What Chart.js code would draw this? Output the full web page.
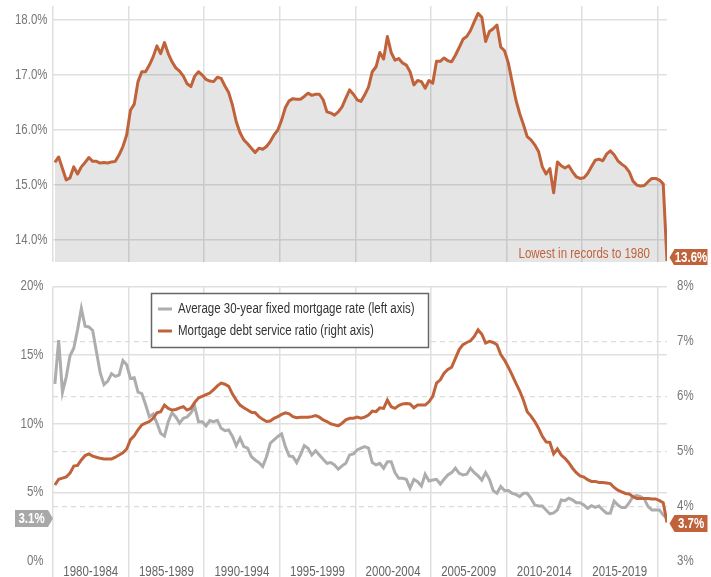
<!DOCTYPE html>
<html>
<head>
<meta charset="utf-8">
<script src="https://cdn.jsdelivr.net/npm/chart.js@4.4.1/dist/chart.umd.min.js"></script>
<style>
  html, body { margin: 0; padding: 0; background: #fff; }
  #wrap { position: relative; width: 711px; height: 577px; overflow: hidden; }
  canvas { position: absolute; left: 0; }
  #topChart { top: 0; }
  #bottomChart { top: 265px; }
</style>
</head>
<body>
<div id="wrap">
  <canvas id="topChart" width="711" height="265"></canvas>
  <canvas id="bottomChart" width="711" height="312"></canvas>
</div>
<script>
// --- DATA (quarterly, 1980 Q1 onward) ---
const startYear = 1980;

// household debt service ratio, % (top panel)
const debtServiceTotal = [
  15.41, 15.51, 15.30, 15.09, 15.13, 15.33, 15.20, 15.33, 15.41, 15.50,
  15.43, 15.43, 15.40, 15.41, 15.40, 15.42, 15.43, 15.55, 15.70, 15.91,
  16.36, 16.47, 16.88, 17.06, 17.06, 17.18, 17.33, 17.53, 17.39, 17.59,
  17.39, 17.24, 17.13, 17.07, 16.98, 16.84, 16.79, 16.98, 17.06, 17.00,
  16.92, 16.89, 16.88, 16.96, 16.94, 16.80, 16.68, 16.45, 16.15, 15.95,
  15.82, 15.75, 15.67, 15.59, 15.67, 15.65, 15.70, 15.79, 15.91, 16.00,
  16.18, 16.41, 16.53, 16.57, 16.56, 16.56, 16.61, 16.67, 16.63, 16.65,
  16.65, 16.55, 16.33, 16.31, 16.27, 16.33, 16.42, 16.58, 16.73, 16.65,
  16.55, 16.52, 16.64, 16.78, 17.06, 17.15, 17.41, 17.29, 17.70, 17.41,
  17.27, 17.30, 17.22, 17.18, 17.06, 16.82, 16.90, 16.88, 16.76, 16.90,
  16.85, 17.25, 17.25, 17.31, 17.26, 17.24, 17.36, 17.50, 17.65, 17.70,
  17.81, 17.97, 18.12, 18.05, 17.61, 17.79, 17.84, 17.91, 17.51, 17.44,
  17.22, 16.88, 16.55, 16.30, 16.10, 15.88, 15.82, 15.73, 15.61, 15.33,
  15.20, 15.30, 14.86, 15.42, 15.35, 15.31, 15.35, 15.24, 15.15, 15.12,
  15.13, 15.21, 15.33, 15.45, 15.47, 15.44, 15.56, 15.62, 15.55, 15.44,
  15.38, 15.33, 15.24, 15.07, 15.00, 14.98, 14.99, 15.06, 15.12, 15.12,
  15.09, 15.02, 13.62
];

// average 30-year fixed mortgage rate, % (left axis)
const mortgageRate = [
  12.9, 16.1, 12.3, 13.4, 14.95, 15.5, 16.85, 18.4, 17.1, 17.05,
  16.8, 15.25, 13.7, 12.85, 13.1, 13.65, 13.45, 13.55, 14.6, 14.3,
  13.3, 13.35, 12.3, 12.2, 11.4, 10.5, 10.7, 10.05, 9.3, 9.1,
  10.15, 10.8, 10.5, 10.05, 10.4, 10.5, 10.8, 11.25, 10.15, 10.15,
  9.85, 10.23, 10.15, 10.25, 9.67, 9.5, 9.55, 9.07, 8.41, 8.95,
  8.33, 8.22, 7.6, 7.36, 7.17, 6.88, 7.6, 8.58, 8.82, 9.07,
  9.26, 8.33, 7.66, 7.6, 7.17, 7.73, 8.41, 8.22, 7.73, 8.04,
  7.73, 7.41, 7.12, 7.17, 7.0, 6.69, 6.93, 7.12, 7.73, 7.8,
  8.09, 8.22, 8.33, 8.22, 7.17, 7.0, 7.12, 6.76, 7.24, 7.24,
  6.44, 6.03, 6.03, 5.95, 5.3, 5.95, 5.78, 5.47, 6.32, 5.83,
  5.9, 5.95, 5.61, 5.95, 6.27, 6.44, 6.76, 6.39, 6.27, 6.32,
  6.76, 6.44, 6.2, 5.9, 6.44, 5.95, 5.13, 4.93, 5.42, 5.13,
  5.13, 4.93, 4.85, 4.69, 4.93, 4.93, 4.57, 4.08, 4.01, 4.01,
  3.72, 3.43, 3.5, 3.72, 4.45, 4.4, 4.57, 4.45, 4.25, 4.25,
  4.08, 3.84, 4.03, 3.9, 4.01, 3.72, 3.48, 3.48, 4.37, 4.08,
  3.89, 3.89, 4.25, 4.69, 4.76, 4.69, 4.52, 3.96, 3.72, 3.72,
  3.72, 3.35, 3.1
];

// mortgage debt service ratio, % (right axis)
const mortgageDsr = [
  4.385, 4.49, 4.51, 4.53, 4.60, 4.73, 4.74, 4.84, 4.92, 4.95,
  4.91, 4.89, 4.87, 4.86, 4.86, 4.86, 4.89, 4.93, 4.97, 5.04,
  5.21, 5.28, 5.39, 5.48, 5.51, 5.54, 5.60, 5.70, 5.72, 5.84,
  5.78, 5.75, 5.76, 5.79, 5.81, 5.75, 5.78, 5.89, 5.97, 6.00,
  6.03, 6.06, 6.12, 6.19, 6.24, 6.22, 6.18, 6.04, 5.93, 5.84,
  5.79, 5.75, 5.71, 5.70, 5.63, 5.58, 5.54, 5.55, 5.60, 5.63,
  5.67, 5.70, 5.68, 5.63, 5.61, 5.62, 5.62, 5.62, 5.63, 5.65,
  5.62, 5.57, 5.54, 5.50, 5.48, 5.46, 5.51, 5.57, 5.60, 5.60,
  5.62, 5.60, 5.62, 5.66, 5.73, 5.72, 5.79, 5.78, 5.93, 5.81,
  5.78, 5.83, 5.86, 5.87, 5.86, 5.79, 5.84, 5.84, 5.84, 5.90,
  6.00, 6.24, 6.30, 6.42, 6.49, 6.53, 6.69, 6.85, 6.94, 6.98,
  7.01, 7.09, 7.21, 7.13, 6.97, 7.00, 6.98, 6.94, 6.76, 6.66,
  6.53, 6.39, 6.24, 6.10, 5.93, 5.72, 5.64, 5.54, 5.42, 5.27,
  5.17, 5.16, 4.95, 5.04, 4.93, 4.87, 4.79, 4.69, 4.61, 4.55,
  4.53, 4.48, 4.45, 4.45, 4.43, 4.43, 4.42, 4.41, 4.34, 4.29,
  4.26, 4.23, 4.22, 4.17, 4.14, 4.14, 4.14, 4.14, 4.13, 4.13,
  4.10, 4.06, 3.70
];

const periodLabels = ["1980-1984", "1985-1989", "1990-1994", "1995-1999",
                      "2000-2004", "2005-2009", "2010-2014", "2015-2019"];
const gridYears = [1980, 1985, 1990, 1995, 2000, 2005, 2010, 2015, 2020];
const topTicks = [14, 15, 16, 17, 18];
const rateTicks = [0, 5, 10, 15, 20];
const dsrTicks = [3, 4, 5, 6, 7, 8];

const legendRate = "Average 30-year fixed mortgage rate (left axis)";
const legendDsr = "Mortgage debt service ratio (right axis)";
const noteText = "Lowest in records to 1980";

// quarter mid-points as decimal years
const quarters = debtServiceTotal.map((_, i) => startYear + 0.125 + i * 0.25);
const lastQuarter = quarters[quarters.length - 1];

// --- STYLE ---
const ORANGE = "#c0623a";
const GREY_LINE = "#adadad";
const GRID = "#e0e0e0";
const NONE = "rgba(0,0,0,0)";
const FONT = '"Liberation Sans", Arial, sans-serif';
const SQUEEZE = 0.82;   // condensed look

function drawText(ctx, text, x, y, o) {
    ctx.save();
    ctx.font = `${o.weight || "normal"} ${o.size || 14}px ${FONT}`;
    ctx.fillStyle = o.color || "#777";
    ctx.textAlign = o.align || "left";
    ctx.textBaseline = "middle";
    ctx.translate(x, y);
    ctx.scale(SQUEEZE, 1);
    ctx.fillText(text, 0, 0);
    ctx.restore();
}

function drawTag(ctx, text, tipX, cy, pointLeft, color) {
    const h = 17, arrow = 5, w = 33;
    ctx.save();
    ctx.beginPath();
    if (pointLeft) {
        ctx.moveTo(tipX, cy);
        ctx.lineTo(tipX + arrow, cy - h / 2);
        ctx.lineTo(tipX + arrow + w, cy - h / 2);
        ctx.lineTo(tipX + arrow + w, cy + h / 2);
        ctx.lineTo(tipX + arrow, cy + h / 2);
    } else {
        ctx.moveTo(tipX, cy);
        ctx.lineTo(tipX - arrow, cy - h / 2);
        ctx.lineTo(tipX - arrow - w, cy - h / 2);
        ctx.lineTo(tipX - arrow - w, cy + h / 2);
        ctx.lineTo(tipX - arrow, cy + h / 2);
    }
    ctx.closePath();
    ctx.fillStyle = color;
    ctx.fill();
    ctx.restore();
    const cx = pointLeft ? tipX + arrow + w / 2 : tipX - arrow - w / 2;
    drawText(ctx, text, cx, cy + 0.5, { size: 14, weight: "bold", color: "#fff", align: "center" });
}

const fixedTicks = list => scale => { scale.ticks = list.map(v => ({ value: v })); };
const pct = v => v.toFixed(1) + "%";

// --- TOP PANEL ---
const topText = {
    id: "topText",
    afterDraw(chart) {
        const { ctx, chartArea, scales: { y } } = chart;
        topTicks.forEach(v => {
            drawText(ctx, v.toFixed(1) + "%", chartArea.left - 5.5, y.getPixelForValue(v), { align: "right", color: "#777" });
        });
        drawText(ctx, noteText, chartArea.right - 17, chartArea.bottom - 7.5, { align: "right", color: ORANGE });
        const last = debtServiceTotal[debtServiceTotal.length - 1];
        drawTag(ctx, pct(last), chartArea.right + 2.5, Math.min(y.getPixelForValue(last), chartArea.bottom - 4.5), true, ORANGE);
    }
};

new Chart(document.getElementById("topChart"), {
    type: "line",
    data: {
        datasets: [{
            data: quarters.map((q, i) => ({ x: q, y: debtServiceTotal[i] })),
            borderColor: ORANGE,
            borderWidth: 3,
            backgroundColor: "rgba(0,0,0,0.1)",
            fill: "start",
            pointRadius: 0,
            tension: 0,
            borderJoinStyle: "round"
        }]
    },
    options: {
        responsive: false,
        animation: false,
        devicePixelRatio: 1,
        events: [],
        layout: { padding: { top: 6, right: 44, bottom: 3, left: 0 } },
        plugins: { legend: { display: false }, tooltip: { enabled: false } },
        scales: {
            x: {
                type: "linear", min: startYear, max: lastQuarter,
                afterBuildTicks: fixedTicks(gridYears),
                afterFit: s => { s.height = 0; },
                ticks: { display: false },
                grid: { color: GRID, lineWidth: 1.5, drawTicks: false },
                border: { display: false }
            },
            y: {
                min: 13.6, max: 18.255,
                afterBuildTicks: fixedTicks(topTicks),
                afterFit: s => { s.width = 53; },
                ticks: { display: false },
                grid: { color: GRID, lineWidth: 1.5, drawTicks: false },
                border: { display: false }
            }
        }
    },
    plugins: [topText]
});

// --- BOTTOM PANEL ---
const bottomText = {
    id: "bottomText",
    afterDraw(chart) {
        const { ctx, chartArea, scales: { x, y, y2 } } = chart;
        rateTicks.forEach(v => drawText(ctx, v + "%", chartArea.left - 9.5, y.getPixelForValue(v), { align: "right" }));
        dsrTicks.forEach(v => drawText(ctx, v + "%", chartArea.right + 10, y2.getPixelForValue(v), { align: "left" }));
        periodLabels.forEach((lab, i) => {
            const mid = (gridYears[i] + gridYears[i + 1]) / 2;
            drawText(ctx, lab, x.getPixelForValue(mid), chartArea.bottom + 11, { align: "center", color: "#666" });
        });

        // legend box
        const lx = 151, ly = 28, lw = 277, lh = 54;
        ctx.save();
        ctx.fillStyle = "#fff";
        ctx.fillRect(lx, ly, lw, lh);
        ctx.strokeStyle = "#666";
        ctx.lineWidth = 1.5;
        ctx.strokeRect(lx + 0.5, ly + 0.5, lw, lh);
        ctx.lineWidth = 3;
        [[GREY_LINE, legendRate, ly + 16], [ORANGE, legendDsr, ly + 38]].forEach(([col, txt, ry]) => {
            ctx.strokeStyle = col;
            ctx.beginPath();
            ctx.moveTo(lx + 7, ry);
            ctx.lineTo(lx + 21, ry);
            ctx.stroke();
            drawText(ctx, txt, lx + 27, ry, { color: "#333" });
        });
        ctx.restore();

        const lastDsr = mortgageDsr[mortgageDsr.length - 1];
        drawTag(ctx, pct(lastDsr), chartArea.right + 2.5, y2.getPixelForValue(lastDsr) + 1, true, ORANGE);
        const lastRate = mortgageRate[mortgageRate.length - 1];
        drawTag(ctx, pct(lastRate), chartArea.left, y.getPixelForValue(lastRate), false, "#a8a8a8");
    }
};

new Chart(document.getElementById("bottomChart"), {
    type: "line",
    data: {
        datasets: [{
            label: legendDsr,
            data: quarters.map((q, i) => ({ x: q, y: mortgageDsr[i] })),
            yAxisID: "y2",
            borderColor: ORANGE,
            borderWidth: 3,
            pointRadius: 0,
            tension: 0,
            order: 0
        }, {
            label: legendRate,
            data: quarters.map((q, i) => ({ x: q, y: mortgageRate[i] })),
            yAxisID: "y",
            borderColor: GREY_LINE,
            borderWidth: 3,
            pointRadius: 0,
            tension: 0,
            order: 1
        }]
    },
    options: {
        responsive: false,
        animation: false,
        devicePixelRatio: 1,
        events: [],
        layout: { padding: { top: 21.5, right: 0, bottom: 0, left: 0 } },
        plugins: { legend: { display: false }, tooltip: { enabled: false } },
        scales: {
            x: {
                type: "linear", min: startYear, max: lastQuarter,
                afterBuildTicks: fixedTicks(gridYears),
                afterFit: s => { s.height = 16; },
                ticks: { display: false },
                grid: { color: GRID, lineWidth: 1.5, drawTicks: true, tickLength: 16 },
                border: { display: false }
            },
            y: {
                position: "left", min: 0, max: 20,
                afterBuildTicks: fixedTicks(rateTicks),
                afterFit: s => { s.width = 53; },
                ticks: { display: false },
                grid: {
                    color: c => (c.tick && c.tick.value === 0) ? NONE : GRID,
                    lineWidth: 1.5, drawTicks: false
                },
                border: { display: false }
            },
            y2: {
                position: "right", min: 3, max: 8,
                afterBuildTicks: fixedTicks(dsrTicks),
                afterFit: s => { s.width = 44; },
                ticks: { display: false },
                grid: {
                    color: c => (c.tick && (c.tick.value === 3 || c.tick.value === 8)) ? NONE : "#dcdcdc",
                    lineWidth: 1.2, drawTicks: false
                },
                border: { display: false, dash: [5, 4] }
            }
        }
    },
    plugins: [bottomText]
});
</script>
</body>
</html>
